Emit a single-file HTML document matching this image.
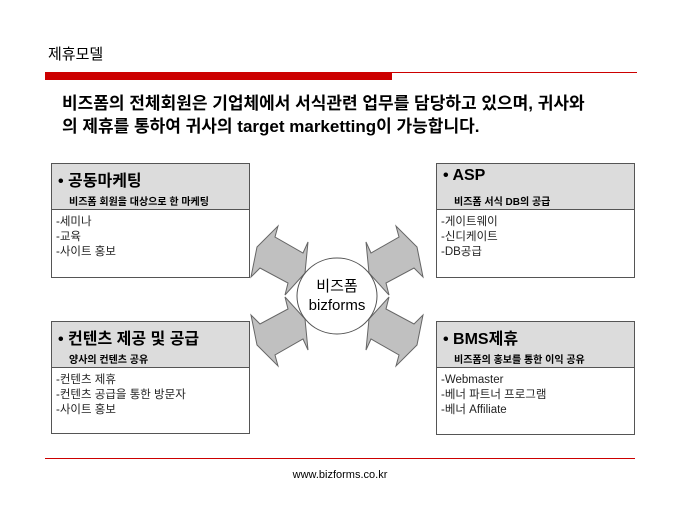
<!DOCTYPE html>
<html><head><meta charset="utf-8"><style>
body{margin:0;width:680px;height:510px;background:#fff;position:relative;overflow:hidden;font-family:"Liberation Sans","Noto Sans CJK KR",sans-serif;color:#000}
.a{position:absolute;white-space:nowrap}
.box{position:absolute;width:197px;border:1px solid #555;background:#fff}
.hd{background:#dcdcdc;border-bottom:1px solid #555;height:45px;position:relative}
.t{position:absolute;left:6px;top:3px;font-size:16px;font-weight:bold}
.s{position:absolute;left:17px;top:29px;font-size:10px;font-weight:bold}
.bd{font-size:11.5px;color:#222;padding:5px 0 0 4px;line-height:15px}
</style></head><body>
<div class="a" style="left:48px;top:43px;font-size:15px">제휴모델</div>
<div class="a" style="left:45px;top:72px;width:592px;height:1px;background:#c00"></div>
<div class="a" style="left:45px;top:72px;width:347px;height:8px;background:#c00"></div>
<div class="a" style="left:62px;top:92px;font-size:17px;font-weight:bold;line-height:23px">비즈폼의 전체회원은 기업체에서 서식관련 업무를 담당하고 있으며, 귀사와<br>의 제휴를 통하여 귀사의 target marketting이 가능합니다.</div>

<div class="box" style="left:51px;top:163px;height:113px"><div class="hd"><div class="t">• 공동마케팅</div><div class="s">비즈폼 회원을 대상으로 한 마케팅</div></div><div class="bd">-세미나<br>-교육<br>-사이트 홍보</div></div>
<div class="box" style="left:51px;top:321px;height:111px"><div class="hd"><div class="t">• 컨텐츠 제공 및 공급</div><div class="s">양사의 컨텐츠 공유</div></div><div class="bd">-컨텐츠 제휴<br>-컨텐츠 공급을 통한 방문자<br>-사이트 홍보</div></div>
<div class="box" style="left:436px;top:163px;height:113px"><div class="hd"><div class="t">• ASP</div><div class="s">비즈폼 서식 DB의 공급</div></div><div class="bd">-게이트웨이<br>-신디케이트<br>-DB공급</div></div>
<div class="box" style="left:436px;top:321px;height:112px"><div class="hd"><div class="t">• BMS제휴</div><div class="s">비즈폼의 홍보를 통한 이익 공유</div></div><div class="bd">-Webmaster<br>-베너 파트너 프로그램<br>-베너 Affiliate</div></div>

<svg class="a" style="left:0;top:0" width="680" height="510">
<g fill="#c0c0c0" stroke="#666" stroke-width="1">
<polygon points="278,226 275,237 303,253 308,242 305,273 285,295 288,283 260,268 251,277 257,247"/>
<polygon points="396,226 399,237 371,253 366,242 369,273 389,295 386,283 414,268 423,277 417,247"/>
<polygon points="278,366 275,355 303,339 308,350 305,319 285,297 288,309 260,324 251,315 257,345"/>
<polygon points="396,366 399,355 371,339 366,350 369,319 389,297 386,309 414,324 423,315 417,345"/>
</g>
<ellipse cx="337" cy="296" rx="40" ry="38" fill="#fff" stroke="#555"/>
<text x="337" y="291" font-size="15" text-anchor="middle" font-family="Liberation Sans,Noto Sans CJK KR,sans-serif">비즈폼</text>
<text x="337" y="310" font-size="15" text-anchor="middle" font-family="Liberation Sans,sans-serif">bizforms</text>
</svg>
<div class="a" style="left:45px;top:458px;width:590px;height:1px;background:#c00"></div>
<div class="a" style="left:0;width:680px;top:469px;text-align:center;font-size:11px">www.bizforms.co.kr</div>
</body></html>
